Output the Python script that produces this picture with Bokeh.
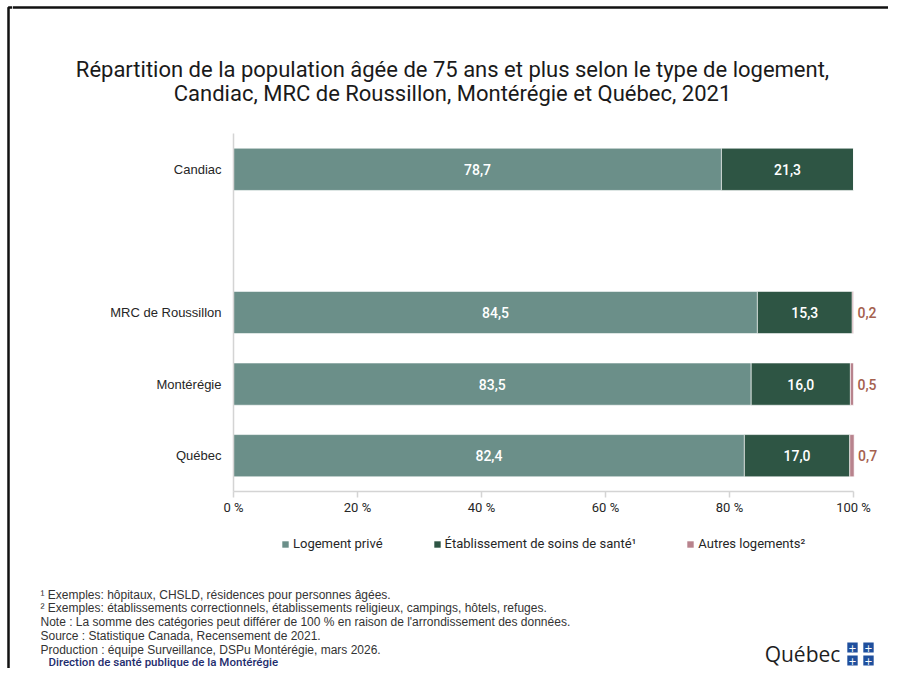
from bokeh.plotting import figure
from bokeh.layouts import column, row
from bokeh.core.properties import value
from bokeh.models import (FactorRange, Range1d, Label, LabelSet, ColumnDataSource,
                          Legend, LegendItem, FixedTicker)
from bokeh.embed import file_html
from bokeh.resources import INLINE

# ---------------- data ----------------
categories = ["Candiac", "MRC de Roussillon", "Montérégie", "Québec"]
logement_prive = [78.7, 84.5, 83.5, 82.4]
etablissement_soins = [21.3, 15.3, 16.0, 17.0]
autres_logements = [0.0, 0.2, 0.5, 0.7]
series_names = ["Logement privé", "Établissement de soins de santé¹", "Autres logements²"]
y_factors = ["Québec", "Montérégie", "MRC de Roussillon", " ", "Candiac"]
x_ticks = [0, 20, 40, 60, 80, 100]
x_tick_labels = ["0 %", "20 %", "40 %", "60 %", "80 %", "100 %"]

title_lines = ["Répartition de la population âgée de 75 ans et plus selon le type de logement,",
               "Candiac, MRC de Roussillon, Montérégie et Québec, 2021"]
footnotes = ["¹ Exemples: hôpitaux, CHSLD, résidences pour personnes âgées.",
             "² Exemples: établissements correctionnels, établissements religieux, campings, hôtels, refuges.",
             "Note : La somme des catégories peut différer de 100 % en raison de l'arrondissement des données.",
             "Source : Statistique Canada, Recensement de 2021.",
             "Production : équipe Surveillance, DSPu Montérégie, mars 2026."]
producer = "Direction de santé publique de la Montérégie"

colors = ["#6b8f89", "#2e5544", "#b8838d"]

def fr(v):
    return f"{v:.1f}".replace(".", ",")

W, H = 888, 668
STRIP = 12
H_HEAD = 125
H_MAIN = 400
H_FOOT = H - H_HEAD - H_MAIN
BORDER = "#111111"
BOLDISH = "Roboto Medium, Roboto"


def blank_fig(x0, x1, y_top, y_bottom):
    f = figure(width=x1 - x0, height=y_bottom - y_top, x_range=Range1d(x0, x1),
               y_range=Range1d(y_bottom, y_top), output_backend="svg",
               toolbar_location=None, x_axis_location=None, y_axis_location=None,
               min_border=0)
    f.outline_line_color = None
    f.xgrid.visible = False
    f.ygrid.visible = False
    f.border_fill_color = "white"
    return f

# ---------------- left strip (frame corner) ----------------
strip = blank_fig(0, STRIP, 0, H)
strip.line(x=[STRIP, 8, 8], y=[7, 7, H], line_color=BORDER, line_width=2.5)

# ---------------- header ----------------
head = blank_fig(STRIP, W, 0, H_HEAD)
head.line(x=[STRIP, W], y=[7, 7], line_color=BORDER, line_width=2.5)
for i, t in enumerate(title_lines):
    head.add_layout(Label(x=452, y=69 + 24 * i, text=t, text_align="center",
                          text_baseline="middle", text_font="Roboto",
                          text_font_size="22px", text_color="#1a1a1a"))

# ---------------- main chart ----------------
src = ColumnDataSource(dict(cat=categories, prive=logement_prive,
                            etab=etablissement_soins, autres=autres_logements))
p = figure(width=W - STRIP, height=H_MAIN, y_range=FactorRange(factors=y_factors),
           x_range=Range1d(0, 105), output_backend="svg", toolbar_location=None,
           min_border_left=221, min_border_right=4, min_border_top=8,
           min_border_bottom=H_MAIN - 8 - 358)
p.outline_line_color = None
p.xgrid.visible = False
p.ygrid.visible = False
p.border_fill_color = "white"

rs = p.hbar_stack(["prive", "etab", "autres"], y="cat", height=0.59,
                  color=colors, line_color="white", line_width=0.6, source=src)

xa = p.xaxis[0]
xa.bounds = (0, 100)
xa.ticker = FixedTicker(ticks=x_ticks)
xa.major_label_overrides = {t: l for t, l in zip(x_ticks, x_tick_labels)}
xa.axis_line_color = "#d4d4d4"
xa.axis_line_width = 1.5
xa.major_tick_line_color = "#d4d4d4"
xa.major_tick_line_width = 1.5
xa.major_tick_out = 6
xa.major_tick_in = 0
xa.minor_tick_line_color = None
xa.major_label_standoff = 2
xa.major_label_text_font = "Roboto"
xa.major_label_text_font_size = "13px"
xa.major_label_text_color = "#262626"

ya = p.yaxis[0]
ya.axis_line_color = "#d4d4d4"
ya.axis_line_width = 1.5
ya.major_tick_line_color = None
ya.minor_tick_line_color = None
ya.major_label_standoff = 6
ya.major_label_text_font = "Liberation Sans"
ya.major_label_text_font_size = "13px"
ya.major_label_text_color = "#262626"

mid_src = ColumnDataSource(dict(
    cat=categories * 2,
    x=[v / 2 for v in logement_prive] + [a + b / 2 for a, b in zip(logement_prive, etablissement_soins)],
    t=[fr(v) for v in logement_prive] + [fr(v) for v in etablissement_soins]))
p.add_layout(LabelSet(x="x", y="cat", text="t", source=mid_src, text_align="center",
                      text_baseline="middle", text_color="white", text_font=value(BOLDISH),
                      text_font_size="14px"))
oth = [(c, a + b + o, fr(o)) for c, a, b, o in
       zip(categories, logement_prive, etablissement_soins, autres_logements) if o > 0]
oth_src = ColumnDataSource(dict(cat=[r[0] for r in oth], x=[r[1] for r in oth], t=[r[2] for r in oth]))
p.add_layout(LabelSet(x="x", y="cat", text="t", source=oth_src, text_align="left", x_offset=4,
                      text_baseline="middle", text_color="#a5614f", text_font=value(BOLDISH),
                      text_font_size="14px"))

# ---------------- footer (legend, notes, logo) ----------------
y0 = H_HEAD + H_MAIN
foot = blank_fig(STRIP, W, y0, H)
# legend keys (one point each, placed outside the visible range)
keys = [foot.rect(x=[-100], y=[-100], width=1, height=1, fill_color=c, line_color=None)
        for c in colors]
legend = Legend(items=[LegendItem(label=n, renderers=[r]) for n, r in zip(series_names, keys)],
                orientation="horizontal", location=(269, 117), margin=0, padding=4,
                spacing=50, glyph_width=8, glyph_height=8, label_standoff=4,
                label_text_font="Roboto", label_text_font_size="13px",
                label_text_color="#262626", border_line_color=None,
                background_fill_alpha=0)
foot.add_layout(legend)

for i, line in enumerate(footnotes):
    foot.add_layout(Label(x=40, y=594 + i * 13.8, text=line, text_align="left",
                          text_baseline="middle", text_font="Liberation Sans",
                          text_font_size="12px", text_color="#333333"))
foot.add_layout(Label(x=48, y=661, text=producer, text_align="left", text_baseline="middle",
                      text_font=BOLDISH, text_font_size="11.5px", text_color="#1f2d6e"))
foot.add_layout(Label(x=802, y=653, text="Québec", text_align="center", text_baseline="middle",
                      text_font="Open Sans", text_font_size="21px", text_color="#1e1e1e"))
for (fx, fy) in [(852, 647), (868, 647), (852, 660), (868, 660)]:
    foot.add_layout(Label(x=fx, y=fy, text="+", text_align="center", text_baseline="middle",
                          text_font="DejaVu Sans", text_font_size="10px",
                          text_color="white", background_fill_color="#1f4f9d", padding=1))

layout = row(strip, column(head, row(p), foot))
open("out.html", "w").write(file_html(layout, INLINE))
